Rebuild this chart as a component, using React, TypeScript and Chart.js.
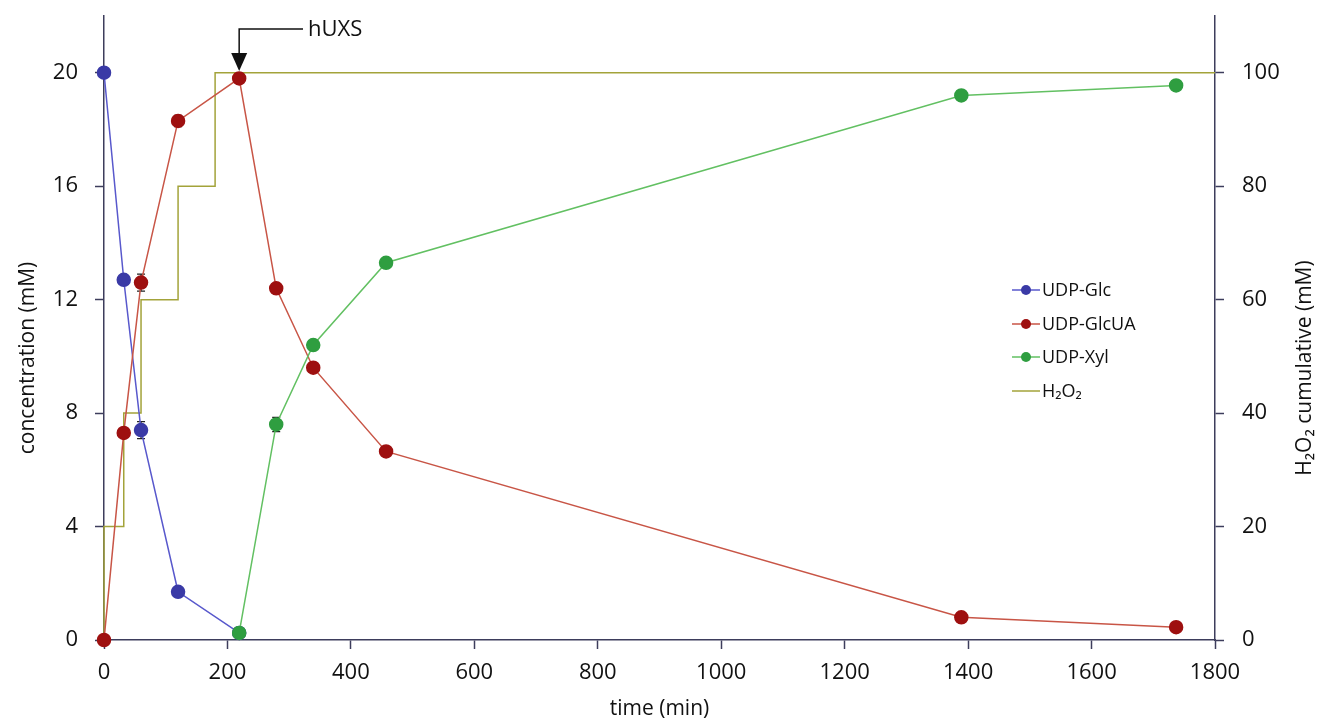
import React, { useEffect, useRef } from "react";
import { Chart, registerables } from "chart.js";

Chart.register(...registerables);

// ---- data ----
const glcTime = [0, 32, 60, 120, 219];
const glcConc = [20, 12.7, 7.4, 1.7, 0.25];
const glcErr = [0, 0, 0.3, 0, 0];

const glcuaTime = [0, 32, 60, 120, 219, 279, 339, 457, 1389, 1737];
const glcuaConc = [0, 7.3, 12.6, 18.3, 19.8, 12.4, 9.6, 6.65, 0.8, 0.45];
const glcuaErr = [0, 0, 0.3, 0.2, 0, 0, 0, 0, 0, 0];

const xylTime = [219, 279, 339, 457, 1389, 1737];
const xylConc = [0.25, 7.6, 10.4, 13.3, 19.2, 19.55];
const xylErr = [0, 0.25, 0, 0, 0, 0];

const h2o2Time = [0, 0, 32, 60, 120, 180, 1800];
const h2o2Cum = [0, 20, 40, 60, 80, 100, 100];

const xTicks = [0, 200, 400, 600, 800, 1000, 1200, 1400, 1600, 1800];
const leftTicks = [0, 4, 8, 12, 16, 20];
const rightTicks = [0, 20, 40, 60, 80, 100];

const annotationTime = 219;
const annotationLabel = "hUXS";

const FONT = "'Open Sans', 'DejaVu Sans', sans-serif";
const AXIS = "#3d3d5c";

const series = [
  { label: "UDP-Glc", line: "#5858cc", point: "#3a3aa6", marker: true },
  { label: "UDP-GlcUA", line: "#c85546", point: "#9e1010", marker: true },
  { label: "UDP-Xyl", line: "#62c062", point: "#2f9e40", marker: true },
  { label: "H₂O₂", line: "#a3a33a", point: "#a3a33a", marker: false },
];

const toXY = (xs: number[], ys: number[]) => xs.map((x, i) => ({ x, y: ys[i] }));

const extrasPlugin = {
  id: "extras",
  beforeDatasetsDraw(chart: any) {
    const { ctx, scales } = chart;
    const xs = scales.x;
    const yl = scales.y;
    ctx.save();
    ctx.strokeStyle = "#222";
    ctx.lineWidth = 1.2;
    const drawErr = (ts: number[], vs: number[], es: number[]) => {
      ts.forEach((t, i) => {
        const e = es[i];
        if (!e) return;
        const px = xs.getPixelForValue(t);
        const top = yl.getPixelForValue(vs[i] + e);
        const bot = yl.getPixelForValue(vs[i] - e);
        ctx.beginPath();
        ctx.moveTo(px, top);
        ctx.lineTo(px, bot);
        ctx.moveTo(px - 4, top);
        ctx.lineTo(px + 4, top);
        ctx.moveTo(px - 4, bot);
        ctx.lineTo(px + 4, bot);
        ctx.stroke();
      });
    };
    drawErr(glcTime, glcConc, glcErr);
    drawErr(glcuaTime, glcuaConc, glcuaErr);
    drawErr(xylTime, xylConc, xylErr);
    ctx.restore();
  },
  afterDraw(chart: any) {
    const { ctx, scales } = chart;
    const xs = scales.x;
    ctx.save();
    // annotation arrow
    const ax = xs.getPixelForValue(annotationTime);
    ctx.strokeStyle = "#111";
    ctx.fillStyle = "#111";
    ctx.lineWidth = 1.5;
    ctx.beginPath();
    ctx.moveTo(303, 29);
    ctx.lineTo(ax, 29);
    ctx.lineTo(ax, 55);
    ctx.stroke();
    ctx.beginPath();
    ctx.moveTo(ax - 8, 53);
    ctx.lineTo(ax + 8, 53);
    ctx.lineTo(ax, 71);
    ctx.closePath();
    ctx.fill();
    ctx.font = `22px ${FONT}`;
    ctx.textAlign = "left";
    ctx.textBaseline = "middle";
    ctx.fillText(annotationLabel, 308, 30);

    // axis titles (left and right)
    ctx.font = `21px ${FONT}`;
    ctx.textAlign = "center";
    ctx.textBaseline = "middle";
    ctx.save();
    ctx.translate(28, 358);
    ctx.rotate(-Math.PI / 2);
    ctx.fillText("concentration (mM)", 0, 0);
    ctx.restore();
    ctx.save();
    ctx.translate(1305, 368);
    ctx.rotate(-Math.PI / 2);
    ctx.fillText("H₂O₂ cumulative (mM)", 0, 0);
    ctx.restore();

    // legend
    const lx0 = 1012;
    const lx1 = 1040;
    const ys = [290, 324, 357, 391];
    ctx.font = `18px ${FONT}`;
    ctx.textAlign = "left";
    ctx.textBaseline = "middle";
    series.forEach((s, i) => {
      const y = ys[i];
      ctx.strokeStyle = s.line;
      ctx.lineWidth = 1.5;
      ctx.beginPath();
      ctx.moveTo(lx0, y);
      ctx.lineTo(lx1, y);
      ctx.stroke();
      if (s.marker) {
        ctx.fillStyle = s.point;
        ctx.beginPath();
        ctx.arc((lx0 + lx1) / 2, y, 5, 0, Math.PI * 2);
        ctx.fill();
      }
      ctx.fillStyle = "#111";
      ctx.fillText(s.label, lx1 + 2, y + 1);
    });
    ctx.restore();
  },
};

export default function App() {
  const ref = useRef<HTMLCanvasElement | null>(null);
  useEffect(() => {
    if (!ref.current) return;
    const mk = (idx: number, data: any[], axis: string, extra: any = {}) => ({
      label: series[idx].label,
      data,
      yAxisID: axis,
      borderColor: series[idx].line,
      backgroundColor: series[idx].point,
      pointBackgroundColor: series[idx].point,
      pointBorderColor: series[idx].point,
      pointRadius: series[idx].marker ? 6.5 : 0,
      pointHoverRadius: 0,
      borderWidth: 1.5,
      tension: 0,
      clip: false,
      ...extra,
    });
    const vFit = (w: number) => (s: any) => {
      s.width = w;
      s.paddingTop = 0;
      s.paddingBottom = 0;
    };
    const chart = new Chart(ref.current, {
      type: "line",
      data: {
        datasets: [
          mk(2, toXY(xylTime, xylConc), "y"),
          mk(1, toXY(glcuaTime, glcuaConc), "y"),
          mk(0, toXY(glcTime, glcConc), "y"),
          mk(3, toXY(h2o2Time, h2o2Cum), "y2", { stepped: true }),
        ],
      },
      options: {
        animation: false,
        responsive: false,
        layout: { padding: { top: 16, left: 0, right: 0, bottom: 0 } },
        plugins: { legend: { display: false }, tooltip: { enabled: false } },
        scales: {
          x: {
            type: "linear",
            min: 0,
            max: 1800,
            afterFit: (s: any) => { s.height = 82; s.paddingLeft = 0; s.paddingRight = 0; },
            afterBuildTicks: (s: any) => { s.ticks = xTicks.map((v) => ({ value: v })); },
            grid: { drawOnChartArea: false, tickLength: 9, color: AXIS, tickWidth: 1.5 },
            border: { color: AXIS, width: 1.5 },
            ticks: { color: "#111", font: { family: FONT, size: 22 }, padding: 11, maxRotation: 0, callback: (v: any) => String(v) },
            title: { display: true, text: "time (min)", color: "#111", font: { family: FONT, size: 21 }, padding: { top: 0, bottom: 0 } },
          },
          y: {
            type: "linear",
            position: "left",
            min: 0,
            max: 22,
            afterFit: vFit(104),
            afterBuildTicks: (s: any) => { s.ticks = leftTicks.map((v) => ({ value: v })); },
            grid: { drawOnChartArea: false, tickLength: 9, color: AXIS, tickWidth: 1.5 },
            border: { color: AXIS, width: 1.5 },
            ticks: { color: "#111", font: { family: FONT, size: 22 }, padding: 17, callback: (v: any) => String(v) },
          },
          y2: {
            type: "linear",
            position: "right",
            min: 0,
            max: 110,
            afterFit: vFit(105),
            afterBuildTicks: (s: any) => { s.ticks = rightTicks.map((v) => ({ value: v })); },
            grid: { drawOnChartArea: false, tickLength: 9, color: AXIS, tickWidth: 1.5 },
            border: { color: AXIS, width: 1.5 },
            ticks: { color: "#111", font: { family: FONT, size: 22 }, padding: 18, callback: (v: any) => String(v) },
          },
        },
      },
      plugins: [extrasPlugin],
    } as any);
    return () => chart.destroy();
  }, []);
  return (
    <div style={{ position: "fixed", left: 0, top: 0, width: 1320, height: 722, background: "#fff" }}>
      <canvas ref={ref} width={1320} height={722} style={{ display: "block" }} />
    </div>
  );
}
